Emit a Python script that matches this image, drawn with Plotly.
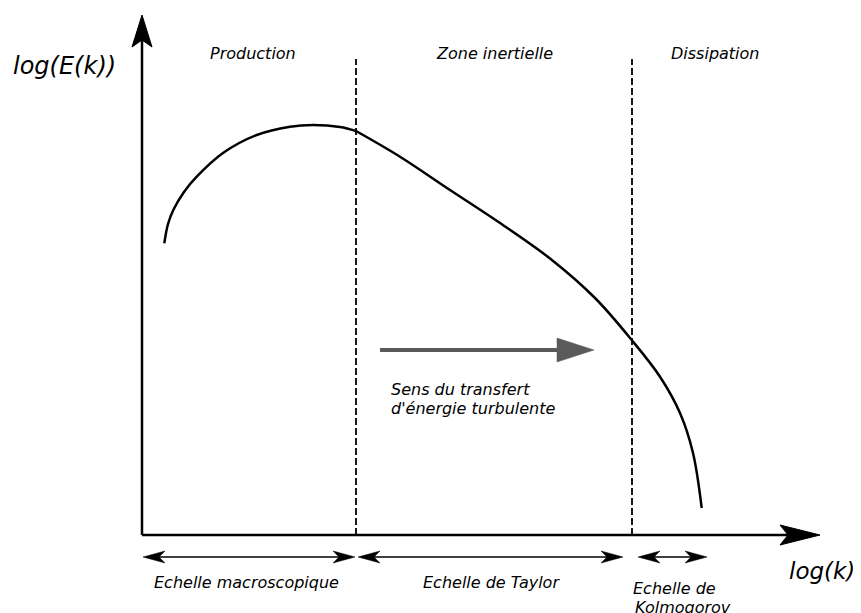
import plotly.graph_objects as go

# ---------------- data (schematic units: x = log(k), y = log(E)) ----------------
k_prod = [164.3, 168, 173.3, 184, 196.7, 223, 256.7, 290, 313, 340, 356]
E_prod = [369.7, 389, 403, 421, 436.3, 460, 478, 486.3, 488, 486, 482]
k_inert = [356, 400, 450, 500, 550, 595, 631.7, 660, 680, 693, 701.7]
E_inert = [482, 456.3, 423, 390, 354.5, 315, 273, 236.3, 200, 160, 105]

k_bounds = [356, 632]
zone_names = ["Production", "Zone inertielle", "Dissipation"]
zone_centers = [253, 494, 715]

scale_names = ["Echelle macroscopique", "Echelle de Taylor", "Echelle de", "Kolmogorov"]
scale_text_x = [246, 491, 674, 683]
scale_text_y = [31, 31, 25, 6]
scale_starts = [143, 358, 638]
scale_ends = [355, 623, 707]

# ---------------- geometry / style constants ----------------
W, H = 861, 613
BODY = 8                  # default page margin of the html body
X0, Y0 = 142, 78          # origin of the drawn axes
X_TIP, Y_TIP = 820, 598   # arrow tips of the axes
DASH_TOP = 554
SCALE_Y = 56              # height of the double arrows
FONT = "DejaVu Sans"


def path(points):
    return "M " + " L ".join(f"{x},{y}" for x, y in points) + " Z"


def head_right(tx, ty, length, half, notch):
    return path([(tx, ty), (tx - length, ty + half), (tx - length + notch, ty), (tx - length, ty - half)])


def head_left(tx, ty, length, half, notch):
    return path([(tx, ty), (tx + length, ty + half), (tx + length - notch, ty), (tx + length, ty - half)])


def head_up(tx, ty, length, half, notch):
    return path([(tx, ty), (tx + half, ty - length), (tx, ty - length + notch), (tx - half, ty - length)])


fig = go.Figure()

for kx, ey in ((k_prod, E_prod), (k_inert, E_inert)):
    fig.add_trace(go.Scatter(x=kx, y=ey, mode="lines",
                             line=dict(color="black", width=2.5, shape="spline", smoothing=1),
                             hoverinfo="skip", showlegend=False))

shapes = []
# axes
shapes.append(dict(type="line", xref="x", yref="y", x0=X0, y0=Y0, x1=X0, y1=Y_TIP - 20,
                   line=dict(color="black", width=2.5)))
shapes.append(dict(type="line", xref="x", yref="y", x0=X0, y0=Y0, x1=X_TIP - 20, y1=Y0,
                   line=dict(color="black", width=2.5)))
shapes.append(dict(type="path", xref="x", yref="y", path=head_up(X0, Y_TIP, 32, 10, 7),
                   fillcolor="black", line=dict(color="black", width=1)))
shapes.append(dict(type="path", xref="x", yref="y", path=head_right(X_TIP, Y0, 40, 10, 8),
                   fillcolor="black", line=dict(color="black", width=1)))

# zone boundaries
for kb in k_bounds:
    shapes.append(dict(type="line", xref="x", yref="y", x0=kb, y0=Y0, x1=kb, y1=DASH_TOP,
                       line=dict(color="black", width=1.8, dash="7px,3px")))

# scale double arrows
for s, e in zip(scale_starts, scale_ends):
    shapes.append(dict(type="line", xref="x", yref="y", x0=s + 10, y0=SCALE_Y, x1=e - 10, y1=SCALE_Y,
                       line=dict(color="black", width=1.5)))
    shapes.append(dict(type="path", xref="x", yref="y", path=head_left(s, SCALE_Y, 22, 6, 6),
                       fillcolor="black", line=dict(color="black", width=0.5)))
    shapes.append(dict(type="path", xref="x", yref="y", path=head_right(e, SCALE_Y, 22, 6, 6),
                       fillcolor="black", line=dict(color="black", width=0.5)))

# energy transfer arrow (gray)
GRAY = "#5a5a5a"
shapes.append(dict(type="line", xref="x", yref="y", x0=380, y0=263, x1=565, y1=263,
                   line=dict(color=GRAY, width=4)))
shapes.append(dict(type="path", xref="x", yref="y",
                   path=path([(594, 263), (557, 275), (557, 251)]),
                   fillcolor=GRAY, line=dict(color=GRAY, width=0.5)))

annotations = []


def txt(x, y, text, size=16, xanchor="center"):
    annotations.append(dict(x=x, y=y, xref="x", yref="y", text=text, showarrow=False,
                            xanchor=xanchor, yanchor="middle",
                            font=dict(family=FONT, size=size, color="black", style="italic")))


txt(64, H - 66, "log(E(k))", size=24)
txt(822, H - 571, "log(k)", size=23)
for name, cx in zip(zone_names, zone_centers):
    txt(cx, H - 53, name)
for name, cx, cy in zip(scale_names, scale_text_x, scale_text_y):
    txt(cx, cy, name)
txt(389, H - 389, "Sens du transfert", xanchor="left")
txt(389, H - 408, "d'énergie turbulente", xanchor="left")

# the html body has an 8 px margin: shift the drawing so page pixels match the reference
fig.update_layout(
    width=W - BODY, height=H - BODY,
    margin=dict(l=0, r=0, t=0, b=0),
    paper_bgcolor="white", plot_bgcolor="white",
    xaxis=dict(range=[BODY, W], visible=False, fixedrange=True),
    yaxis=dict(range=[0, H - BODY], visible=False, fixedrange=True),
    shapes=shapes, annotations=annotations,
    showlegend=False,
)

fig.write_html("out.html", config={"displayModeBar": False})
